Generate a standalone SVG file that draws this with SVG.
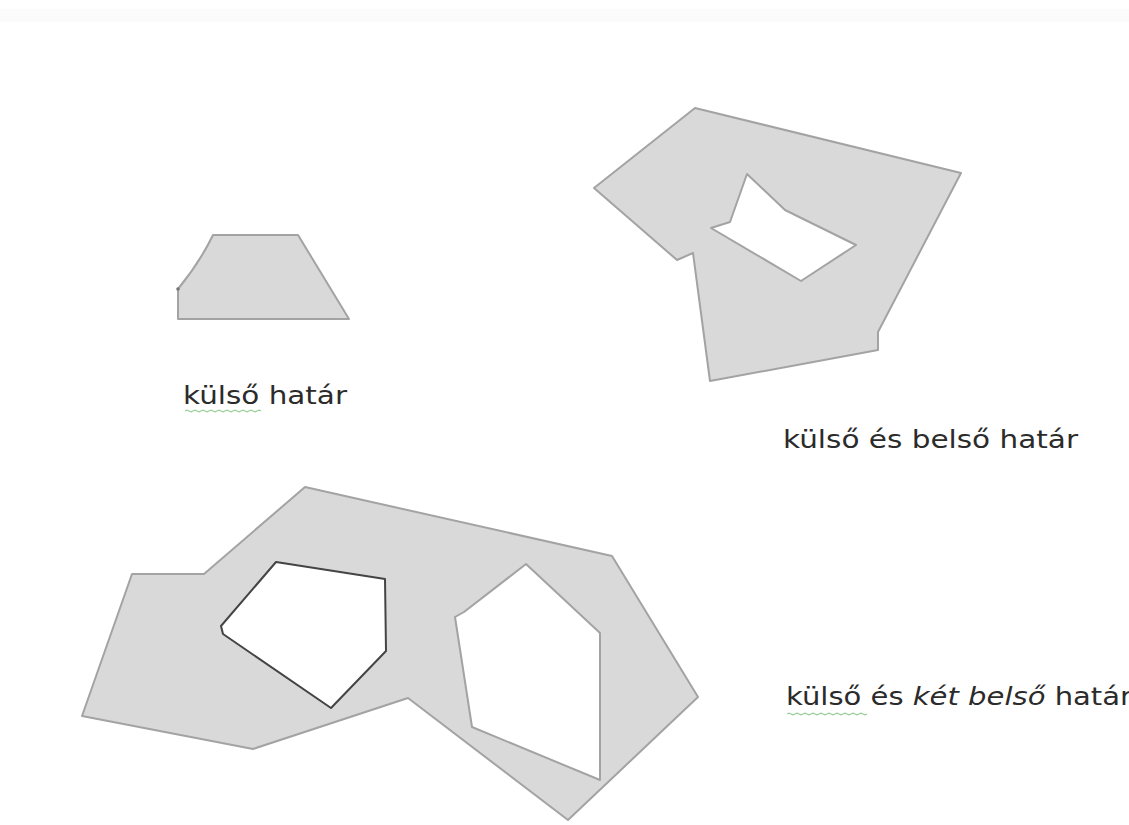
<svg xmlns="http://www.w3.org/2000/svg" width="1129" height="825" viewBox="0 0 1129 825">
<defs>
<style>
.shape{fill:#d9d9d9;stroke:#a3a3a3;stroke-width:2;stroke-linejoin:round;fill-rule:evenodd}
.hole{fill:#ffffff;stroke:#a3a3a3;stroke-width:2;stroke-linejoin:round}
.hole-dark{fill:#ffffff;stroke:#444444;stroke-width:2;stroke-linejoin:round}
.lbl{font-family:"DejaVu Sans","Noto Sans",sans-serif;font-size:24px;fill:#2b2b2b}
.wavy{fill:none;stroke:#7cc37c;stroke-width:1}
</style>
</defs>
<rect x="0" y="0" width="1129" height="825" fill="#ffffff"/>
<rect x="0" y="9" width="1129" height="13" fill="#fbfbfb"/>
<g id="shape-outer">
<path class="shape" d="M213,235 L298,235 L349,319 L178,319 L178,289 Q200,262 213,235 Z"/>
<circle cx="178" cy="289" r="1.8" fill="#777"/>
</g>
<g id="shape-outer-inner">
<path class="shape" d="M695,108 L961,173 L878,332 L878,350 L710,381 L693,253 L677,260 L594,188 Z M747,174 L785,210 L856,245 L801,281 L711,228 L730,222 Z"/>
</g>
<g id="shape-outer-two-inner">
<path class="shape" d="M305,487 L612,556 L698,697 L568,820 L408,698 L253,749 L82,716 L132,574 L204,574 Z"/>
<path class="hole-dark" d="M276,562 L385,579 L386,651 L331,708 L223,634 L221,626 Z"/>
<path class="hole" d="M526,564 L600,633 L600,780 L472,727 L455,617 L464,612 Z"/>
</g>
<g id="labels">
<text class="lbl" x="183" y="404" textLength="164" lengthAdjust="spacingAndGlyphs">külső határ</text>
<path class="wavy" d="M185,411 q2,-2 4,0 t4,0 t4,0 t4,0 t4,0 t4,0 t4,0 t4,0 t4,0 t4,0 t4,0 t4,0 t4,0 t4,0 t4,0 t4,0 t4,0 t4,0 t4,0"/>
<text class="lbl" x="783" y="448" textLength="295" lengthAdjust="spacingAndGlyphs">külső és belső határ</text>
<text class="lbl" x="786" y="705" textLength="346" lengthAdjust="spacingAndGlyphs">külső és <tspan font-style="italic">két belső</tspan> határ</text>
<path class="wavy" d="M787,714 q2,-2 4,0 t4,0 t4,0 t4,0 t4,0 t4,0 t4,0 t4,0 t4,0 t4,0 t4,0 t4,0 t4,0 t4,0 t4,0 t4,0 t4,0 t4,0 t4,0 t4,0"/>
</g>
</svg>
